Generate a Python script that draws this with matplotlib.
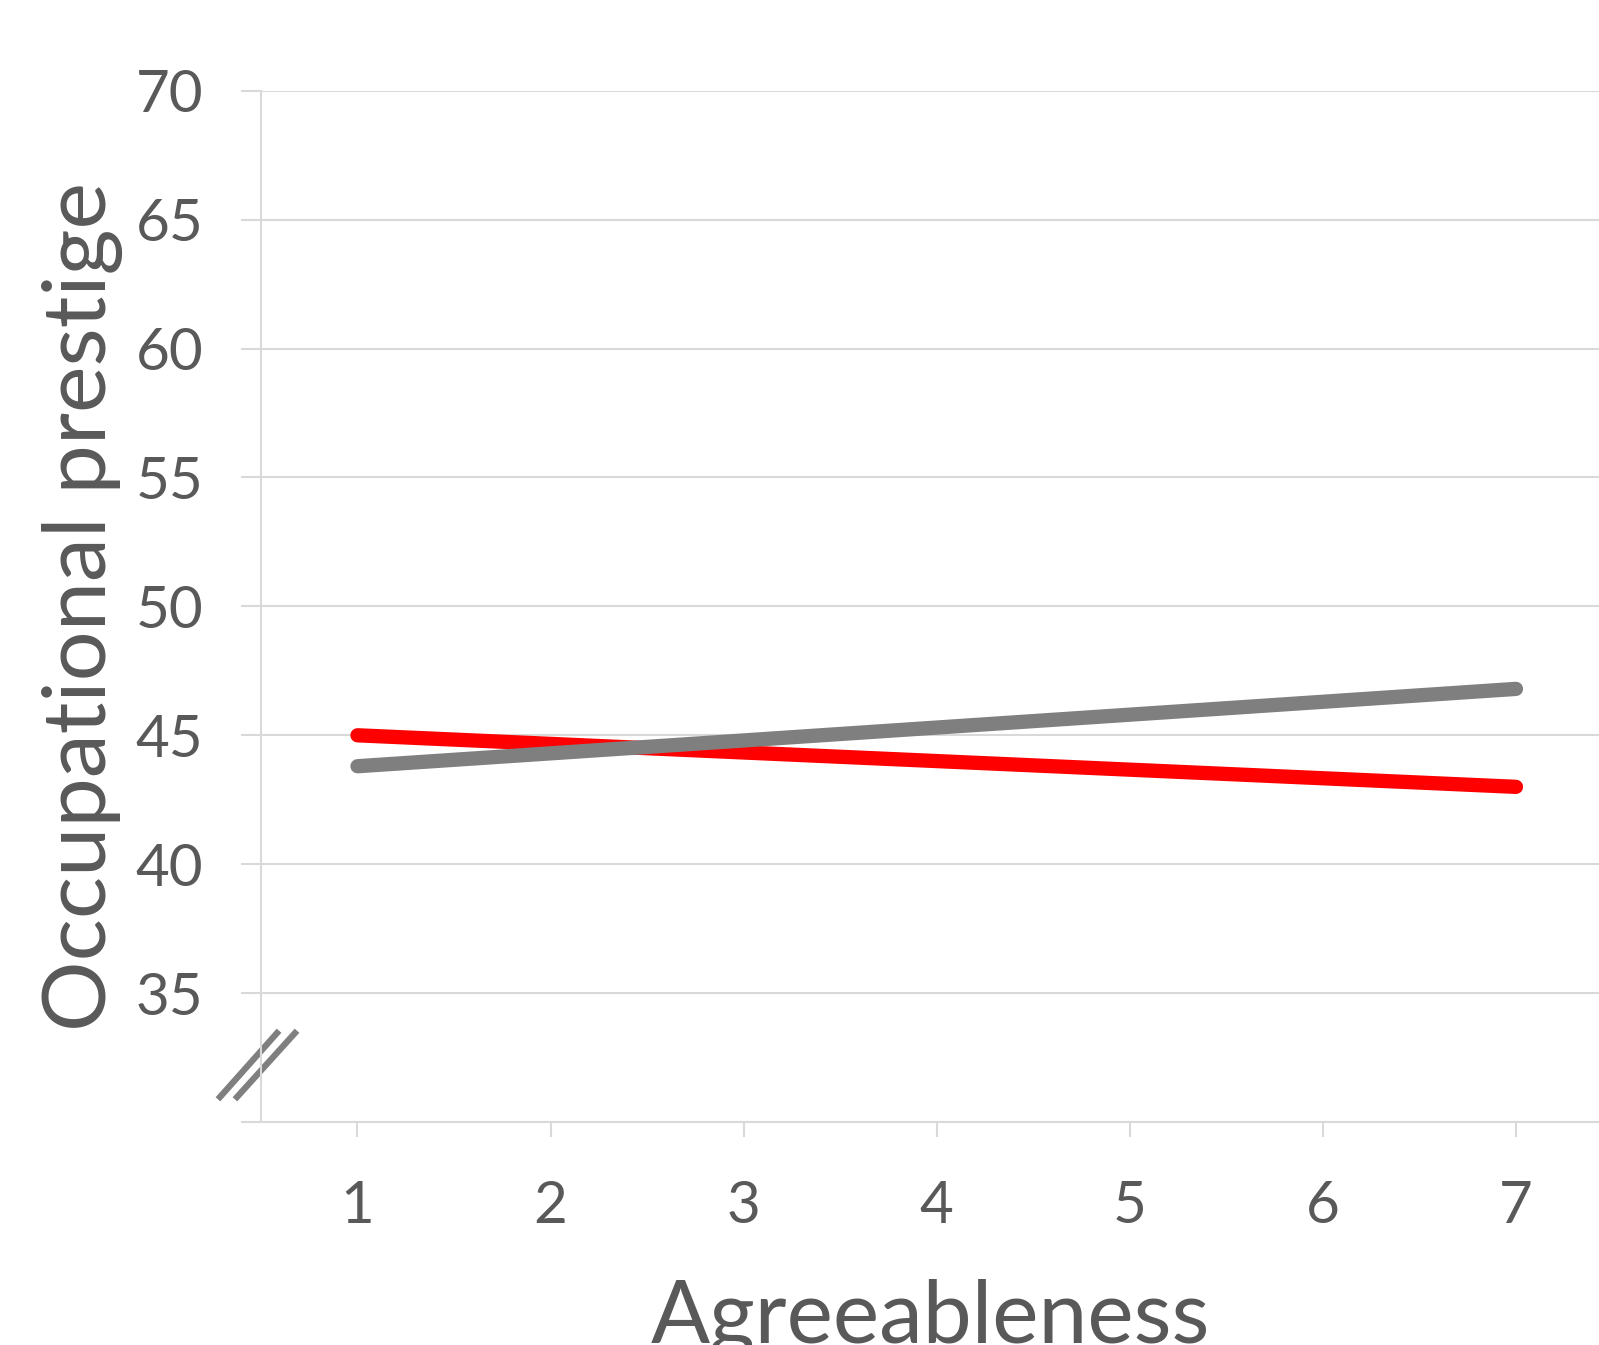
import matplotlib.pyplot as plt

plt.rcParams['font.family'] = ['Lato', 'DejaVu Sans']

agree = [1, 7]
low_group = [45.0, 43.0]    # red line
high_group = [43.8, 46.8]   # gray line
y_ticks = [30, 35, 40, 45, 50, 55, 60, 65, 70]
y_labels = ['', '35', '40', '45', '50', '55', '60', '65', '70']
x_ticks = [1, 2, 3, 4, 5, 6, 7]

txt = '#595959'
grid = '#d9d9d9'

fig = plt.figure(figsize=(15.99, 13.45), dpi=100)
ax = fig.add_axes([0.1632, 0.1658, 0.8368, 0.7667])

ax.plot(agree, low_group, color='#ff0000', lw=10.3, solid_capstyle='round', zorder=3)
ax.plot(agree, high_group, color='#7f7f7f', lw=10.3, solid_capstyle='round', zorder=3)

ax.set_xlim(0.5, 7.43)
ax.set_ylim(30, 70)
ax.set_yticks(y_ticks)
ax.set_yticklabels(y_labels)
ax.set_xticks(x_ticks)
ax.yaxis.grid(True, color=grid, lw=1.5)
ax.set_axisbelow(True)

for s in ['top', 'right']:
    ax.spines[s].set_visible(False)
for s in ['left', 'bottom']:
    ax.spines[s].set_color(grid)
    ax.spines[s].set_linewidth(1.5)

ax.tick_params(axis='y', length=14.5, width=1.5, color=grid, pad=27,
               labelsize=42, labelcolor=txt)
ax.tick_params(axis='x', length=11, width=1.5, color=grid, pad=31,
               labelsize=42, labelcolor=txt)

# axis break marks
ax.plot([0.288, 0.583], [30.97, 33.45], color='#7f7f7f', lw=4.5, clip_on=False)
ax.plot([0.376, 0.676], [30.97, 33.45], color='#7f7f7f', lw=4.5, clip_on=False)

ax.set_ylabel('Occupational prestige', fontsize=63.5, color=txt, labelpad=9)
ax.set_xlabel('Agreeableness', fontsize=63, color=txt, labelpad=33)

fig.savefig('out.png', dpi=100)
